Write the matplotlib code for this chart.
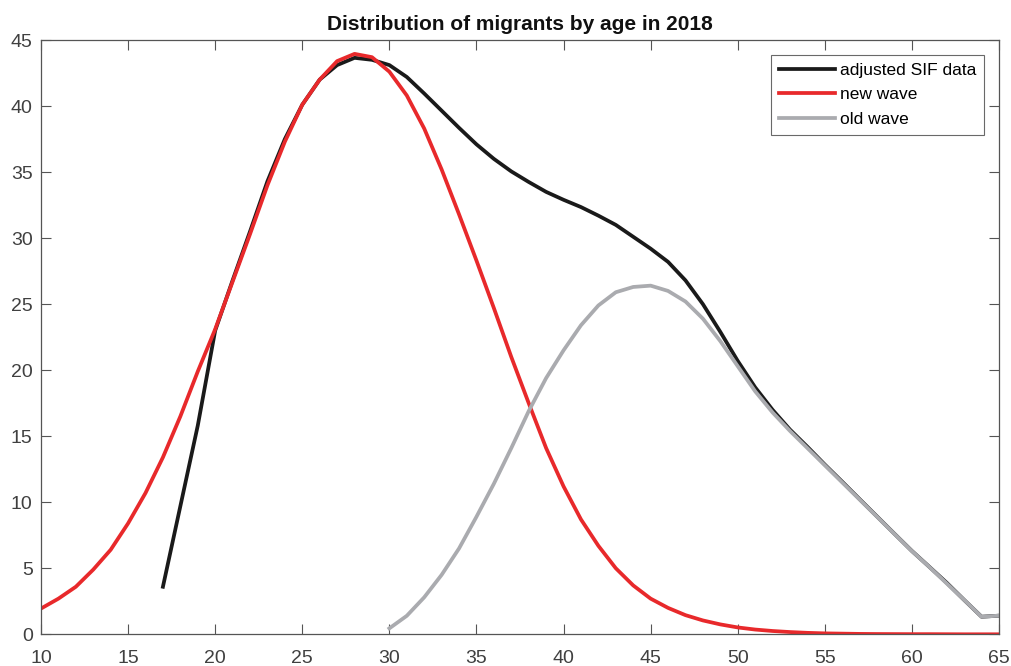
import matplotlib
matplotlib.use("Agg")
import matplotlib.pyplot as plt
from matplotlib.ticker import MultipleLocator

plt.rcParams['font.family'] = ['Liberation Sans', 'DejaVu Sans']

ages_new = list(range(10, 66))
new_wave = [1.95, 2.7, 3.6, 4.9, 6.4, 8.4, 10.7, 13.4, 16.5, 19.9,
            23.1, 26.7, 30.3, 34.0, 37.3, 40.1, 42.0, 43.4, 43.95, 43.7,
            42.6, 40.8, 38.3, 35.2, 31.8, 28.3, 24.7, 21.0, 17.5, 14.1,
            11.2, 8.7, 6.7, 5.0, 3.7, 2.7, 2.0, 1.45, 1.05, 0.75,
            0.52, 0.36, 0.25, 0.17, 0.11, 0.07, 0.05, 0.03, 0.02, 0.015,
            0.01, 0.01, 0.005, 0.0, 0.0, 0.0]

ages_old = list(range(30, 66))
old_wave = [0.45, 1.4, 2.8, 4.5, 6.5, 8.9, 11.4, 14.1, 16.9, 19.4,
            21.5, 23.4, 24.9, 25.9, 26.3, 26.4, 26.0, 25.2, 23.9, 22.2,
            20.3, 18.4, 16.8, 15.4, 14.1, 12.8, 11.5, 10.2, 8.9, 7.6,
            6.3, 5.1, 3.85, 2.6, 1.33, 1.41]

ages_sif = list(range(17, 66))
sif = [3.6, 9.7, 15.8, 23.0, 26.8, 30.5, 34.3, 37.5, 40.1, 42.0,
       43.1, 43.65, 43.5, 43.1, 42.2, 40.95, 39.65, 38.35, 37.1, 36.0,
       35.05, 34.25, 33.5, 32.9, 32.35, 31.7, 31.0, 30.1, 29.2, 28.2,
       26.8, 25.0, 22.9, 20.7, 18.7, 17.0, 15.5, 14.2, 12.85, 11.55,
       10.23, 8.92, 7.61, 6.31, 5.11, 3.9, 2.6, 1.33, 1.41]

fig = plt.figure(figsize=(10.11, 6.66), dpi=100)
ax = fig.add_axes([41/1011, 1 - 634.3/666, (999-41)/1011, (634.3-40)/666])

lw = 2.7
ax.plot(ages_sif, sif, color='#1a1a1a', lw=lw, label='adjusted SIF data')
ax.plot(ages_new, new_wave, color='#e8292b', lw=lw, label='new wave')
ax.plot(ages_old, old_wave, color='#aaabaf', lw=lw, label='old wave')

ax.set_xlim(10, 65)
ax.set_ylim(0, 45)
ax.xaxis.set_major_locator(MultipleLocator(5))
ax.yaxis.set_major_locator(MultipleLocator(5))
ax.tick_params(direction='in', length=7, width=0.8, colors='#555555',
               labelcolor='#404040', labelsize=14, top=True, right=True)
ax.tick_params(axis='x', pad=11)
ax.tick_params(axis='y', pad=6)
for s in ax.spines.values():
    s.set_color('#555555')
    s.set_linewidth(0.9)

ax.set_title('Distribution of migrants by age in 2018', fontsize=15,
             fontweight='bold', color='#111111', pad=7)

leg = ax.legend(loc='upper right', fontsize=12.5, frameon=True, fancybox=False,
                edgecolor='#444444', handlelength=3.2, handletextpad=0.3,
                labelspacing=0.55, borderpad=0.45, borderaxespad=0.85)
leg.get_frame().set_linewidth(0.8)

fig.savefig('out.png', dpi=100)
